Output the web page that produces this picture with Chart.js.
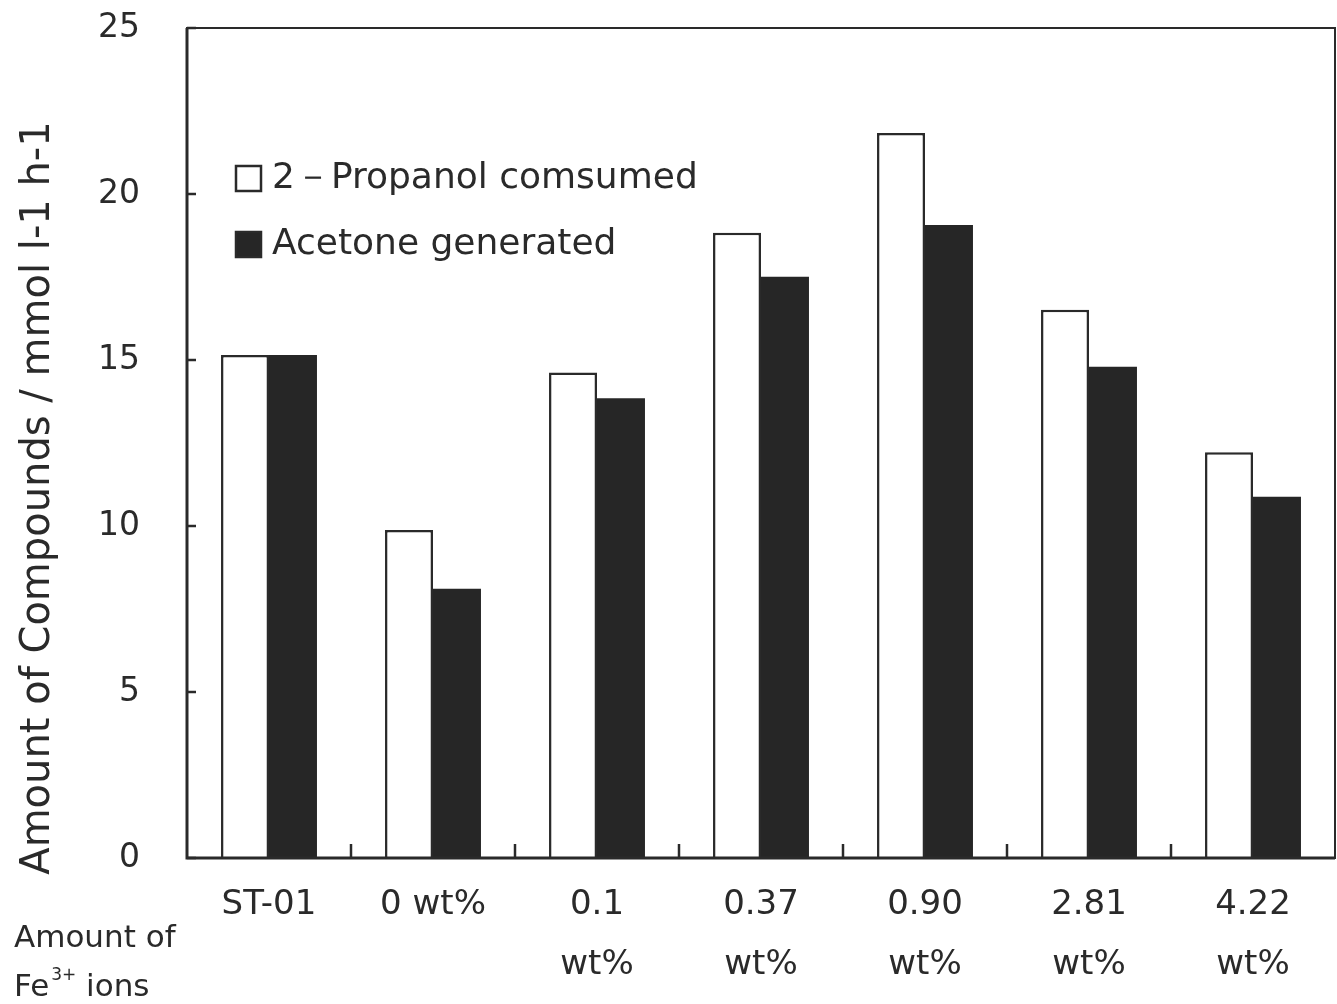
<!DOCTYPE html>
<html><head><meta charset="utf-8">
<script src="https://cdn.jsdelivr.net/npm/chart.js@4.4.0/dist/chart.umd.min.js"></script>
<style>html,body{margin:0;padding:0;background:#fff;} #wrap{width:1337px;height:1004px;position:relative;}</style>
</head><body><div id="wrap"><canvas id="c" width="1337" height="1004"></canvas></div>
<script>
const categories = [['ST-01'], ['0 wt%'], ['0.1', 'wt%'], ['0.37', 'wt%'], ['0.90', 'wt%'], ['2.81', 'wt%'], ['4.22', 'wt%']];
const propanolConsumed = [15.15, 9.88, 14.62, 18.83, 21.84, 16.51, 12.22];
const acetoneGenerated = [15.15, 8.11, 13.85, 17.51, 19.07, 14.80, 10.88];
const seriesLabels = ['2－Propanol comsumed', 'Acetone generated'];
const yTicks = [0, 5, 10, 15, 20, 25];
const yTitle = 'Amount of Compounds / mmol l-1 h-1';
const xTitleLine1 = 'Amount of';
const xTitleLine2 = ['Fe', '3+', ' ions'];

const INK = '#2a2a2a';
const FONT = '"DejaVu Sans", sans-serif';

const decor = {
  id: 'decor',
  afterDatasetsDraw(chart) {
    const ctx = chart.ctx, a = chart.chartArea, xs = chart.scales.x, ys = chart.scales.y;
    ctx.save();
    ctx.strokeStyle = INK;
    ctx.lineWidth = 2;
    ctx.strokeRect(a.left, a.top, a.right - a.left, a.bottom - a.top);
    ctx.lineWidth = 3;
    ctx.beginPath(); ctx.moveTo(a.left, a.top); ctx.lineTo(a.left, a.bottom); ctx.lineTo(a.right, a.bottom); ctx.stroke();
    ctx.lineWidth = 2.5;
    // inward y ticks
    ys.ticks.forEach(t => {
      const py = ys.getPixelForValue(t.value);
      ctx.beginPath(); ctx.moveTo(a.left, py); ctx.lineTo(a.left + 9, py); ctx.stroke();
    });
    // inward x ticks at category boundaries
    for (let i = 0; i < categories.length - 1; i++) {
      const px = (xs.getPixelForValue(i) + xs.getPixelForValue(i + 1)) / 2;
      ctx.beginPath(); ctx.moveTo(px, a.bottom); ctx.lineTo(px, a.bottom - 14); ctx.stroke();
    }
    ctx.restore();
  },
  afterDraw(chart) {
    const ctx = chart.ctx;
    ctx.save();
    ctx.fillStyle = INK;
    // y title
    ctx.translate(39, 498);
    ctx.rotate(-Math.PI / 2);
    ctx.textAlign = 'center';
    ctx.textBaseline = 'middle';
    ctx.font = '40px ' + FONT;
    ctx.fillText(yTitle, 0, 0);
    ctx.restore();

    // legend
    ctx.save();
    const ds = chart.data.datasets;
    const rows = [178, 244];
    ctx.font = '36px ' + FONT;
    ctx.textBaseline = 'middle';
    ctx.textAlign = 'left';
    ds.forEach((d, i) => {
      const cy = rows[i];
      ctx.fillStyle = d.backgroundColor;
      ctx.fillRect(236, cy - 12, 25, 25);
      ctx.strokeStyle = INK; ctx.lineWidth = 2.5;
      ctx.strokeRect(236, cy - 12, 25, 25);
      ctx.fillStyle = INK;
      ctx.fillText(d.label, 272, cy + 1);
    });

    // bottom-left axis caption
    ctx.textBaseline = 'alphabetic';
    ctx.font = '31px ' + FONT;
    ctx.fillText(xTitleLine1, 14, 947);
    let x = 14;
    ctx.fillText(xTitleLine2[0], x, 996);
    x += ctx.measureText(xTitleLine2[0]).width + 2;
    ctx.font = '17px ' + FONT;
    ctx.fillText(xTitleLine2[1], x, 980);
    x += ctx.measureText(xTitleLine2[1]).width;
    ctx.font = '31px ' + FONT;
    ctx.fillText(xTitleLine2[2], x, 996);
    ctx.restore();
  }
};

new Chart(document.getElementById('c'), {
  type: 'bar',
  data: {
    labels: categories,
    datasets: [
      { label: seriesLabels[0], data: propanolConsumed, backgroundColor: '#ffffff', borderColor: INK, borderWidth: 2.5, borderSkipped: 'bottom' },
      { label: seriesLabels[1], data: acetoneGenerated, backgroundColor: '#262626', borderColor: '#262626', borderWidth: 0 }
    ]
  },
  options: {
    responsive: false,
    animation: false,
    devicePixelRatio: 1,
    categoryPercentage: 0.585,
    barPercentage: 1.0,
    layout: { padding: { top: 28, right: 2, left: 0, bottom: 0 } },
    plugins: { legend: { display: false }, tooltip: { enabled: false } },
    scales: {
      x: {
        grid: { display: false, drawTicks: false },
        border: { display: false },
        ticks: { color: INK, font: { family: FONT, size: 34, lineHeight: 1.765 }, padding: 17, maxRotation: 0, autoSkip: false },
        afterFit(s) { s.height = 146; s.paddingLeft = 0; s.paddingRight = 0; }
      },
      y: {
        min: 0, max: 25,
        grid: { display: false, drawTicks: false },
        border: { display: false },
        ticks: { color: INK, font: { family: FONT, size: 33 }, padding: 47 },
        afterBuildTicks(s) { s.ticks = yTicks.map(v => ({ value: v })); },
        afterFit(s) { s.width = 187; s.paddingTop = 0; s.paddingBottom = 0; }
      }
    }
  },
  plugins: [decor]
});
</script>
</body></html>
